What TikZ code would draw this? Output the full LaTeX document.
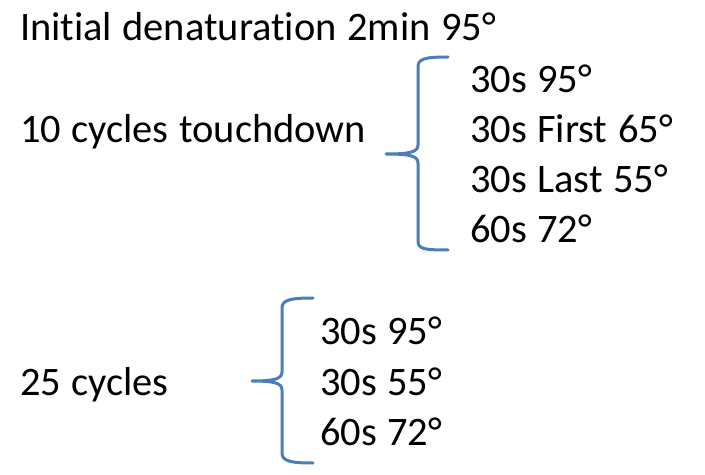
\documentclass[tikz,border=0pt]{standalone}
\usepackage{fontspec}
\setmainfont[Ligatures=NoCommon,WordSpace=1.15]{Carlito}
\definecolor{bracecol}{HTML}{4A7EBB}
\begin{document}
\begin{tikzpicture}[x=1bp,y=-1bp,
  lbl/.style={anchor=base west,inner sep=0pt,outer sep=0pt,font=\fontsize{40.6}{46}\selectfont},
  bracepath/.style={draw=bracecol,line width=3bp,line cap=round,line join=round}]
\useasboundingbox (0,0) rectangle (705,475);
\node[lbl] (init) at (20,41) {Initial denaturation 2min 95°};
\node[lbl] (td) at (20,143) {10 cycles touchdown};
\node[lbl] (a1) at (470,93) {30s 95°};
\node[lbl] (a2) at (470,143) {30s First 65°};
\node[lbl] (a3) at (470,193) {30s Last 55°};
\node[lbl] (a4) at (470,243) {60s 72°};
\node[lbl] (c25) at (20,395) {25 cycles};
\node[lbl] (b1) at (320,345) {30s 95°};
\node[lbl] (b2) at (320,395) {30s 55°};
\node[lbl] (b3) at (320,445) {60s 72°};
% brace 1
\coordinate (t1) at (448,57);
\coordinate (m1) at (386,154);
\coordinate (e1) at (448,250);
\draw[bracepath] (t1) .. controls (424,57) and (418,59) .. (418,67) -- (418,145)
  .. controls (418,152) and (410,154) .. (m1)
  .. controls (410,154) and (418,156) .. (418,163) -- (418,241)
  .. controls (418,249) and (424,250) .. (e1);
% brace 2
\coordinate (t2) at (313,298);
\coordinate (m2) at (252,381);
\coordinate (e2) at (313,463);
\draw[bracepath] (t2) .. controls (290,298) and (282,300) .. (282,308) -- (282,372)
  .. controls (282,379) and (274,381) .. (m2)
  .. controls (274,381) and (282,383) .. (282,390) -- (282,453)
  .. controls (282,461) and (290,463) .. (e2);
\end{tikzpicture}
\end{document}
